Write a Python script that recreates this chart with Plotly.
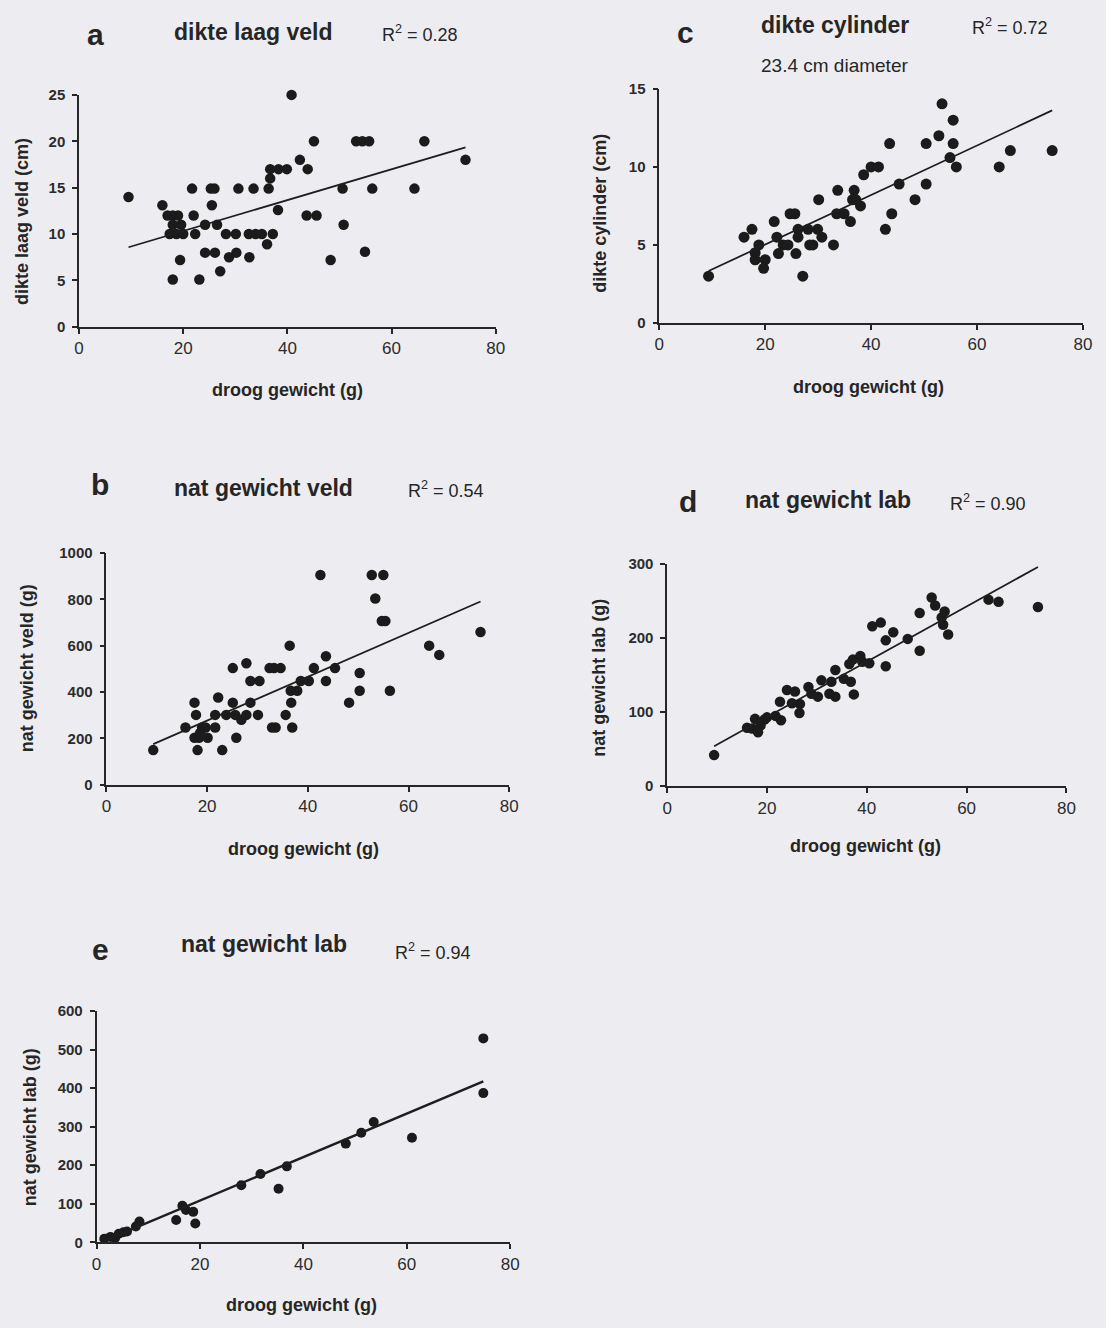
import plotly.graph_objects as go

W, H = 1106, 1328

# ---------------- data ----------------
x_ticks = [0, 20, 40, 60, 80]

a_x = [9.5, 16.0, 17.0, 18.0, 19.0, 18.0, 19.6, 17.4, 18.7, 20.0, 19.4, 18.0, 21.7, 22.0, 22.3, 23.1,
       24.2, 25.3, 26.0, 25.5, 26.5, 24.2, 26.1, 27.1, 28.2, 30.1, 28.8, 30.2, 30.6, 32.7, 32.6, 33.9,
       35.1, 33.5, 36.1, 37.2, 36.4, 36.7, 36.7, 38.3, 39.9, 38.2, 40.8, 42.4, 43.9, 45.1, 43.7, 45.6,
       48.3, 50.6, 50.8, 53.2, 54.4, 55.7, 56.3, 54.9, 64.4, 66.3, 74.2]
a_y = [14.0, 13.1, 12.0, 12.0, 12.0, 11.0, 11.0, 10.0, 10.0, 10.0, 7.2, 5.1, 14.9, 12.0, 10.0, 5.1,
       11.0, 14.9, 14.9, 13.1, 11.0, 8.0, 8.0, 6.0, 10.0, 10.0, 7.5, 8.0, 14.9, 7.5, 10.0, 10.0,
       10.0, 14.9, 8.9, 10.0, 14.9, 16.0, 17.0, 17.0, 17.0, 12.6, 25.0, 18.0, 17.0, 20.0, 12.0, 12.0,
       7.2, 14.9, 11.0, 20.0, 20.0, 20.0, 14.9, 8.1, 14.9, 20.0, 18.0]
a_trend = (0.1665, 7.0)
a_yticks = [0, 5, 10, 15, 20, 25]

c_x = [9.3, 16.0, 17.5, 18.8, 18.1, 18.1, 20.0, 19.7, 21.7, 22.2, 22.5, 23.4, 24.3, 24.7, 25.6, 25.8,
       26.2, 26.2, 27.1, 28.1, 29.9, 28.4, 29.0, 30.1, 30.7, 32.9, 33.7, 33.5, 34.9, 36.1, 36.8, 36.5,
       37.1, 38.0, 38.6, 40.0, 41.4, 42.7, 43.5, 43.9, 45.3, 48.3, 50.4, 50.4, 52.8, 53.4, 54.9, 55.5,
       55.5, 56.1, 64.2, 66.3, 74.2]
c_y = [3.0, 5.5, 6.0, 5.0, 4.5, 4.05, 4.05, 3.5, 6.5, 5.5, 4.45, 5.0, 5.0, 7.0, 7.0, 4.45,
       6.0, 5.5, 3.0, 6.0, 6.0, 5.0, 5.0, 7.9, 5.5, 5.0, 8.5, 7.0, 7.0, 6.5, 8.5, 7.9,
       7.9, 7.5, 9.5, 10.0, 10.0, 6.0, 11.5, 7.0, 8.9, 7.9, 11.5, 8.9, 12.0, 14.05, 10.6, 13.0,
       11.5, 10.0, 10.0, 11.05, 11.05]
c_trend = (0.1587, 1.85)
c_yticks = [0, 5, 10, 15]

b_x = [9.3, 15.7, 17.5, 17.8, 18.1, 17.5, 18.4, 20.1, 19.0, 19.7, 18.6, 21.6, 21.6, 22.2, 23.0, 23.8,
       25.1, 25.1, 25.6, 25.8, 26.8, 27.8, 27.8, 28.6, 28.6, 30.4, 30.1, 32.4, 33.3, 34.6, 32.9, 33.6,
       35.6, 36.4, 36.6, 37.9, 36.7, 36.9, 38.6, 40.2, 41.2, 42.5, 43.6, 43.6, 45.4, 48.2, 50.3, 50.3,
       52.7, 55.0, 53.4, 54.7, 55.4, 56.3, 64.1, 66.1, 74.3]
b_y = [149, 247, 354, 301, 149, 202, 202, 202, 247, 247, 223, 247, 301, 376, 149, 301,
       503, 354, 301, 202, 280, 301, 524, 354, 447, 447, 301, 503, 503, 503, 247, 247,
       301, 600, 405, 405, 354, 247, 447, 447, 503, 905, 554, 447, 503, 354, 482, 405,
       905, 905, 803, 706, 706, 405, 600, 560, 659]
b_trend = (9.47, 87.0)
b_yticks = [0, 200, 400, 600, 800, 1000]

d_x = [9.4, 16.0, 17.0, 17.6, 18.2, 18.7, 19.5, 20.0, 21.7, 22.8, 22.6, 24.0, 25.6, 25.0, 26.6, 26.5,
       28.3, 28.9, 30.2, 30.9, 32.5, 33.7, 32.9, 33.7, 35.4, 36.8, 37.4, 36.5, 37.2, 38.7, 39.1, 40.5,
       41.1, 42.8, 43.8, 45.3, 43.8, 48.2, 50.6, 50.6, 53.0, 53.7, 55.0, 55.3, 55.6, 56.3, 64.4, 66.4,
       74.3]
d_y = [42, 79, 78, 91, 73, 82, 90, 93, 95, 89, 114, 130, 128, 112, 111, 99,
       134, 125, 121, 143, 125, 121, 141, 157, 145, 141, 124, 165, 171, 176, 168, 166,
       216, 221, 197, 208, 162, 199, 183, 234, 255, 244, 228, 218, 236, 205, 252, 249,
       242]
d_trend = (3.73, 19.0)
d_yticks = [0, 100, 200, 300]

e_x = [1.5, 2.7, 3.6, 4.3, 5.2, 5.9, 7.6, 8.3, 15.4, 16.6, 17.3, 18.7, 19.1, 28.0, 31.7, 35.2,
       36.8, 48.2, 51.2, 53.6, 61.0, 74.8, 74.8]
e_y = [9, 14, 11, 22, 26, 28, 41, 54, 58, 95, 84, 79, 49, 148, 177, 139,
       197, 256, 284, 312, 271, 529, 387]
e_trend = (5.64, -4.6)
e_yticks = [0, 100, 200, 300, 400, 500, 600]

# ---------------- styling ----------------
FONT = "Liberation Sans, Arial, sans-serif"
BG = "#ededf1"
INK = "#262626"
DOT = "#1b1b1b"

# plot boxes in page pixels: (x_left, x_right, y_top, y_bottom)
boxes = {
    "a": (75, 497, 87, 322),
    "c": (662.7, 1091.7, 81, 318),
    "b": (102.7, 510.7, 551, 785.7),
    "d": (670.7, 1075, 562.3, 787.3),
    "e": (92.7, 511.7, 1015, 1249.3),
}

panels = [
    ("a", a_x, a_y, a_trend, a_yticks, 10.5),
    ("c", c_x, c_y, c_trend, c_yticks, 11),
    ("b", b_x, b_y, b_trend, b_yticks, 10.5),
    ("d", d_x, d_y, d_trend, d_yticks, 10.5),
    ("e", e_x, e_y, e_trend, e_yticks, 10),
]

fig = go.Figure()
layout = dict(width=W, height=H, margin=dict(l=0, r=0, t=0, b=0),
              paper_bgcolor=BG, plot_bgcolor=BG, showlegend=False,
              font=dict(family=FONT, color=INK))

for i, (key, xs, ys, (m, c0), yt, msize) in enumerate(panels, start=1):
    xl, xr, yt_px, yb_px = boxes[key]
    sfx = "" if i == 1 else str(i)
    layout["xaxis" + sfx] = dict(
        domain=[xl / W, xr / W], anchor="y" + sfx, range=[0, 80], tickvals=x_ticks,
        showline=True, linecolor=INK, linewidth=2, ticks="outside", ticklen=5, tickwidth=1.5,
        tickcolor=INK, showgrid=False, zeroline=False, fixedrange=True,
        tickfont=dict(family=FONT, size=17, color="#2c2c2c"))
    layout["yaxis" + sfx] = dict(
        domain=[1 - yb_px / H, 1 - yt_px / H], anchor="x" + sfx, range=[0, yt[-1]], tickvals=yt,
        showline=True, linecolor=INK, linewidth=1.6, ticks="outside", ticklen=5, tickwidth=1.5,
        tickcolor=INK, showgrid=False, zeroline=False, fixedrange=True, ticklabelstandoff=4,
        tickfont=dict(family=FONT, size=15, color="#2c2c2c", weight="bold"))
    fig.add_trace(go.Scatter(x=xs, y=ys, mode="markers", xaxis="x" + sfx, yaxis="y" + sfx,
                             marker=dict(size=msize, color=DOT), cliponaxis=False,
                             hoverinfo="skip"))
    x0, x1 = min(xs), max(xs)
    fig.add_trace(go.Scatter(x=[x0, x1], y=[m * x0 + c0, m * x1 + c0], mode="lines",
                             xaxis="x" + sfx, yaxis="y" + sfx,
                             line=dict(color="#1e1e1e", width=2.4 if key == "e" else 1.8),
                             hoverinfo="skip"))


def ann(text, xp, yp, size, bold=False, angle=0):
    return dict(text=text, x=xp / W, y=1 - yp / H, xref="paper", yref="paper",
                xanchor="center", yanchor="middle", showarrow=False, textangle=angle,
                font=dict(family=FONT, size=size, color=INK, weight="bold" if bold else "normal"))


XT = "droog gewicht (g)"
R2 = "R<sup>2</sup> = "
annotations = [
    # panel a
    ann("a", 92, 25.5, 30, True), ann("dikte laag veld", 252, 23, 23, True),
    ann(R2 + "0.28", 420, 24.4, 18),
    ann(XT, 286, 386, 18, True), ann("dikte laag veld (cm)", 17, 215, 18, True, -90),
    # panel c
    ann("c", 689, 23.5, 30, True), ann("dikte cylinder", 841, 16.3, 23, True),
    ann(R2 + "0.72", 1018, 17.7, 18), ann("23.4 cm diameter", 840, 57, 19),
    ann(XT, 875, 383, 18, True), ann("dikte cylinder (cm)", 603, 207, 18, True, -90),
    # panel b
    ann("b", 96, 482, 30, True), ann("nat gewicht veld", 262, 485, 23, True),
    ann(R2 + "0.54", 447, 486.4, 18),
    ann(XT, 302, 851, 18, True), ann("nat gewicht veld (g)", 23, 668, 18, True, -90),
    # panel d
    ann("d", 692, 499, 30, True), ann("nat gewicht lab", 834, 497.3, 23, True),
    ann(R2 + "0.90", 996, 500, 18),
    ann(XT, 872, 848, 18, True), ann("nat gewicht lab (g)", 602, 677, 18, True, -90),
    # panel e
    ann("e", 97, 953, 30, True), ann("nat gewicht lab", 262, 947, 23, True),
    ann(R2 + "0.94", 433, 955, 18),
    ann(XT, 300, 1313, 18, True), ann("nat gewicht lab (g)", 26, 1133, 18, True, -90),
]
layout["annotations"] = annotations
fig.update_layout(**layout)
fig.write_html("out.html", config={"displayModeBar": False},
               post_script="document.body.style.margin='0';"
                           "document.body.style.background='%s';" % BG)
